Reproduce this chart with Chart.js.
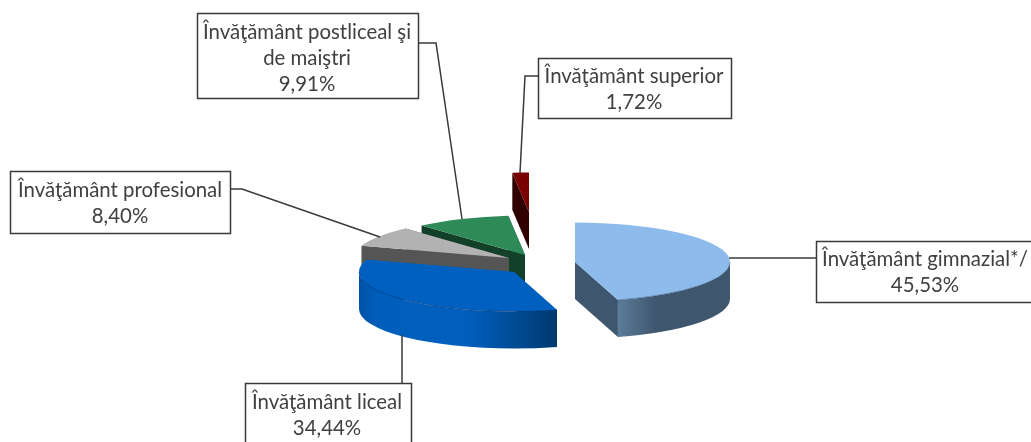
<!DOCTYPE html>
<html>
<head>
<meta charset="utf-8">
<style>html,body{margin:0;padding:0;background:#fff;overflow:hidden}canvas{display:block}</style>
<script src="https://cdn.jsdelivr.net/npm/chart.js@4"></script>
</head>
<body>
<canvas id="c" width="1031" height="442"></canvas>
<script>
const categories = ['Învăţământ gimnazial*/', 'Învăţământ liceal', 'Învăţământ profesional', 'Învăţământ postliceal şi\nde maiştri', 'Învăţământ superior'];
const values = [45.53, 34.44, 8.40, 9.91, 1.72];
const topColors = ['#8DBBEC', '#0060C0', '#B2B2B2', '#2E8B57', '#7A0000'];
const sideColors = ['#3F566F', '#0060C0', '#555555', '#134028', '#300000'];

// layout of the exploded 3D view: centre of each slice on the page
const sliceCentres = [[575, 262], [514, 272], [509, 258], [525, 255], [529, 212]];
const RX = 155, RY = 39.5, DEPTH = 37;
const drawOrder = [4, 3, 2, 1, 0];
const labelBoxes = [
  {x: 816, y: 241, w: 240, h: 61, cx: 925, ly: 259},
  {x: 245, y: 383, w: 166, h: 90, cx: 327, ly: 402},
  {x: 10, y: 171, w: 220, h: 62, cx: 120, ly: 190},
  {x: 197, y: 13, w: 221, h: 85, cx: 307, ly: 32},
  {x: 538, y: 58, w: 193, h: 60, cx: 634, ly: 76}
];
const leaders = [
  [[816, 258], [729, 258]],
  [[402, 383], [402, 335]],
  [[230, 189], [242, 189], [380, 237]],
  [[418, 43], [436, 43], [462, 219]],
  [[538, 76], [525, 76], [520, 173]]
];

function wallGradient(ctx, i) {
  if (i === 0) {
    const g = ctx.createLinearGradient(618, 0, 729, 0);
    g.addColorStop(0, '#5B7C98');
    g.addColorStop(0.35, '#3F566F');
    g.addColorStop(1, '#3F566F');
    return g;
  }
  if (i === 1) {
    const g = ctx.createLinearGradient(358, 0, 557, 0);
    g.addColorStop(0, '#0052A6');
    g.addColorStop(0.1, '#005EBB');
    g.addColorStop(0.55, '#005FBE');
    g.addColorStop(1, '#00396F');
    return g;
  }
  return sideColors[i];
}

const pie3d = {
  id: 'pie3d',
  beforeDatasetsDraw(chart) {
    const ctx = chart.ctx;
    const arcs = chart.getDatasetMeta(0).data;
    drawOrder.forEach(i => {
      const arc = arcs[i];
      const [ax, ay] = sliceCentres[i];
      const a1 = arc.startAngle, a2 = arc.endAngle;
      const px = a => ax + RX * Math.cos(a), py = a => ay + RY * Math.sin(a);

      // cut faces
      ctx.fillStyle = sideColors[i];
      [a1, a2].forEach(a => {
        ctx.beginPath();
        ctx.moveTo(ax, ay);
        ctx.lineTo(px(a), py(a));
        ctx.lineTo(px(a), py(a) + DEPTH);
        ctx.lineTo(ax, ay + DEPTH);
        ctx.closePath();
        ctx.fill();
      });

      // outer wall, front half only
      const from = Math.max(a1, 0), to = Math.min(a2, Math.PI);
      if (to > from) {
        ctx.beginPath();
        ctx.ellipse(ax, ay, RX, RY, 0, from, to);
        ctx.lineTo(px(to), py(to) + DEPTH);
        ctx.ellipse(ax, ay + DEPTH, RX, RY, 0, to, from, true);
        ctx.closePath();
        ctx.fillStyle = wallGradient(ctx, i);
        ctx.fill();
      }

      // top face: the library's own arc, squashed
      ctx.save();
      ctx.translate(ax, ay);
      ctx.scale(1, RY / RX);
      ctx.translate(-arc.x, -arc.y);
      arc.draw(ctx);
      ctx.restore();

      // rim between top and wall
      if (to > from) {
        ctx.beginPath();
        ctx.ellipse(ax, ay, RX, RY, 0, from, to);
        ctx.strokeStyle = 'rgba(0,20,50,0.4)';
        ctx.lineWidth = 0.8;
        ctx.stroke();
      }
    });
    return false;
  },
  afterDraw(chart) {
    const ctx = chart.ctx;
    ctx.save();
    ctx.strokeStyle = '#3A3A3A';
    ctx.lineWidth = 1.5;
    leaders.forEach(pts => {
      ctx.beginPath();
      pts.forEach((p, k) => k ? ctx.lineTo(p[0], p[1]) : ctx.moveTo(p[0], p[1]));
      ctx.stroke();
    });
    ctx.font = '20.4px Lato';
    ctx.textAlign = 'center';
    ctx.textBaseline = 'middle';
    categories.forEach((name, i) => {
      const b = labelBoxes[i];
      ctx.fillStyle = '#fff';
      ctx.fillRect(b.x, b.y, b.w, b.h);
      ctx.strokeStyle = '#3A3A3A';
      ctx.lineWidth = 1.5;
      ctx.strokeRect(b.x + .5, b.y + .5, b.w, b.h);
      ctx.fillStyle = '#404040';
      const lines = name.split('\n').concat(values[i].toFixed(2).replace('.', ',') + '%');
      lines.forEach((t, k) => ctx.fillText(t, b.cx, b.ly + k * 26));
    });
    ctx.restore();
  }
};

new Chart(document.getElementById('c'), {
  type: 'pie',
  data: {
    labels: categories,
    datasets: [{data: values, backgroundColor: topColors, borderWidth: 0}]
  },
  options: {
    responsive: false,
    animation: false,
    radius: RX,
    plugins: {legend: {display: false}, tooltip: {enabled: false}}
  },
  plugins: [pie3d]
});
</script>
</body>
</html>
